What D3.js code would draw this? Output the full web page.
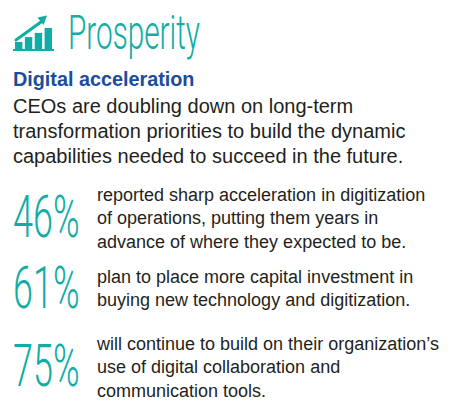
<!DOCTYPE html>
<html>
<head>
<meta charset="utf-8">
<title>Prosperity</title>
<script src="https://cdn.jsdelivr.net/npm/d3@7"></script>
<style>
  body { margin: 0; background: #fff; }
</style>
</head>
<body>
<div id="main-container"></div>
<script>
// data
var title = "Prosperity";
var heading = "Digital acceleration";
var introLines = [
  "CEOs are doubling down on long-term",
  "transformation priorities to build the dynamic",
  "capabilities needed to succeed in the future."
];
var statValues = [46, 61, 75];
var statLines = [
  ["reported sharp acceleration in digitization",
   "of operations, putting them years in",
   "advance of where they expected to be."],
  ["plan to place more capital investment in",
   "buying new technology and digitization."],
  ["will continue to build on their organization\u2019s",
   "use of digital collaboration and",
   "communication tools."]
];
var iconLevels = [1, 1.7, 2.3, 3];

var teal = "#0fada5";
var blue = "#1b4d9b";
var ink = "#231f20";
var thinFont = "Roboto, Lato, 'Open Sans', sans-serif";
var bodyFont = "'Liberation Sans', Arial, sans-serif";

var width = 455, height = 410;

var svg = d3.select("#main-container")
  .append("svg")
    .attr("width", width)
    .attr("height", height);

//////// icon
var ix = d3.scaleBand()
  .domain(d3.range(iconLevels.length))
  .range([14, 53])
  .paddingInner(0.25)
  .paddingOuter(0.1);
var iy = d3.scaleLinear().domain([0, 3]).range([49, 28]);

var icon = svg.append("g");
icon.selectAll("rect")
  .data(iconLevels)
  .enter()
  .append("rect")
    .attr("x", function(d, i) { return ix(i); })
    .attr("y", function(d) { return iy(d); })
    .attr("width", ix.bandwidth())
    .attr("height", function(d) { return iy(0) - iy(d); })
    .attr("fill", teal);
icon.append("rect")
  .attr("x", 13).attr("y", iy(0))
  .attr("width", 41).attr("height", 2)
  .attr("fill", teal);
icon.append("line")
  .attr("x1", ix(0) + 1).attr("y1", iy(iconLevels[0]) - 2)
  .attr("x2", ix(3) - 1).attr("y2", iy(iconLevels[3]) - 8)
  .attr("stroke", teal).attr("stroke-width", 3)
  .attr("stroke-linecap", "round");
icon.append("path")
  .attr("d", "M47,15.5 L37.5,17.5 L43.5,25 Z")
  .attr("fill", teal);

//////// title
svg.append("text")
  .attr("x", 68).attr("y", 49)
  .attr("font-family", thinFont)
  .attr("font-weight", 300)
  .attr("font-size", 49)
  .attr("fill", teal)
  .attr("textLength", 132)
  .attr("lengthAdjust", "spacingAndGlyphs")
  .text(title);

//////// heading + intro
svg.append("text")
  .attr("x", 13).attr("y", 86)
  .attr("font-family", bodyFont)
  .attr("font-weight", "bold")
  .attr("font-size", 19.8)
  .attr("fill", blue)
  .text(heading);

svg.append("g").selectAll("text")
  .data(introLines)
  .enter()
  .append("text")
    .attr("x", 13)
    .attr("y", function(d, i) { return 113 + i * 25; })
    .attr("font-family", bodyFont)
    .attr("font-size", 20)
    .attr("fill", ink)
    .text(function(d) { return d; });

//////// stats
var rowTop = [201, 283, 350];
var lineH = 23.4;

var rows = svg.selectAll("g.stat")
  .data(statValues)
  .enter()
  .append("g")
    .attr("class", "stat")
    .attr("transform", function(d, i) { return "translate(0," + rowTop[i] + ")"; });

rows.append("text")
  .attr("transform", function(d, i) {
    var last = (statLines[i].length - 1) * lineH;
    return "translate(13," + (last / 2 + 13) + ") scale(0.6,1)";
  })
  .attr("font-family", thinFont)
  .attr("font-weight", 300)
  .attr("font-size", 60)
  .attr("fill", teal)
  .text(function(d) { return d + "%"; });

rows.each(function(d, i) {
  d3.select(this).selectAll("text.line")
    .data(statLines[i])
    .enter()
    .append("text")
      .attr("class", "line")
      .attr("x", 97)
      .attr("y", function(t, j) { return j * lineH; })
      .attr("font-family", bodyFont)
      .attr("font-size", 18)
      .attr("fill", ink)
      .text(function(t) { return t; });
});
</script>
</body>
</html>
